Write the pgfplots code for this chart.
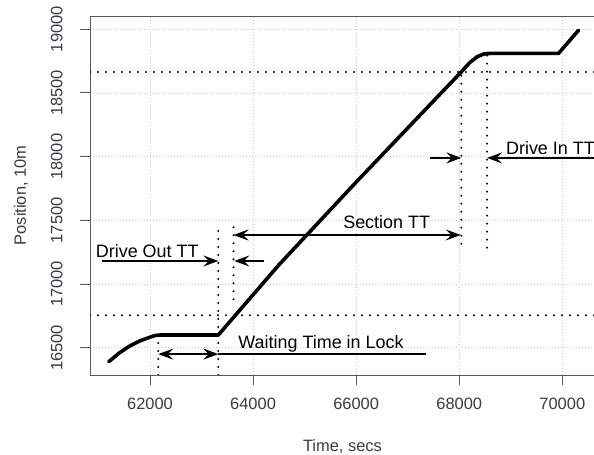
\documentclass[border=0pt]{standalone}
\usepackage{pgfplots}
\pgfplotsset{compat=1.18}
\usepackage{fontspec}
\setmainfont{Liberation Sans}
\usetikzlibrary{arrows.meta}
\definecolor{spine}{HTML}{5A5A5A}
\definecolor{ticktxt}{HTML}{3A3A44}
\tikzset{hd/.tip={Stealth[length=15bp, width=11bp, inset=5.5bp]}}
\begin{document}
\begin{tikzpicture}[
  refdot/.style={line width=2.2bp, dash pattern=on 0bp off 8bp, line cap=round, black},
  ann/.style={line width=1.3bp, black},
  anntext/.style={font=\fontsize{18}{20}\selectfont, inner sep=0pt}]
\begin{axis}[
  at={(90bp,80bp)}, anchor=south west,
  scale only axis, width=507bp, height=359bp,
  xmin=60836, xmax=70673, ymin=16286, ymax=19104,
  xtick={62000,64000,66000,68000,70000},
  ytick={16500,17000,17500,18000,18500,19000},
  scaled ticks=false,
  /pgf/number format/1000 sep={},
  /pgf/number format/assume math mode=true,
  tick align=outside, tick pos=left,
  major tick length=10bp,
  axis line style={spine, line width=0.9bp},
  major tick style={spine, line width=0.9bp},
  grid=major,
  major grid style={black!20, dash pattern=on 1bp off 2bp, line width=0.6bp},
  tick label style={font=\fontsize{16.5}{18}\selectfont, text=ticktxt},
  yticklabel style={rotate=90, anchor=south},
  xticklabel shift=9bp, yticklabel shift=14bp,
  xlabel={Time, secs}, ylabel={Position, 10m},
  label style={font=\fontsize{16.5}{18}\selectfont, text=ticktxt},
  xlabel style={at={(axis description cs:0.498,-0.2)}, anchor=center},
  ylabel style={at={(axis description cs:-0.136,0.5)}, anchor=center},
]
% reference lines
\addplot[refdot] coordinates {(60836,18665) (70673,18665)};
\addplot[refdot] coordinates {(60836,16755) (70673,16755)};
\addplot[refdot] coordinates {(62161,16286) (62161,16590)};
\addplot[refdot] coordinates {(63326,16286) (63326,17465)};
\addplot[refdot] coordinates {(63620,16880) (63620,17480)};
\addplot[refdot] coordinates {(68040,17317) (68040,18665)};
\addplot[refdot] coordinates {(68540,17286) (68540,18810)};
% position trace
\addplot[black, line width=3.6bp, line join=round, line cap=round] coordinates {
 (61200,16390) (61400,16458) (61600,16512) (61800,16553) (62000,16583)
 (62100,16596) (62200,16600) (63326,16600) (64500,17150) (66000,17800)
 (67650,18500) (68040,18665) (68200,18737) (68350,18785) (68480,18806)
 (68600,18810) (69926,18810) (70315,18992)};
% annotations
\draw[ann, -{hd}] (axis cs:61063,17181) -- (axis cs:63326,17181);
\draw[ann, -{hd}] (axis cs:64218,17181) -- (axis cs:63637,17181);
\node[anntext, anchor=base west] at (axis cs:60947,17212) {Drive Out TT};
\draw[ann, {hd}-{hd}] (axis cs:63620,17385) -- (axis cs:68030,17385);
\node[anntext, anchor=base] at (axis cs:66592,17435) {Section TT};
\draw[ann, -{hd}] (axis cs:67437,17990) -- (axis cs:68040,17990);
\draw[ann, -{hd}] (axis cs:70673,17990) -- (axis cs:68540,17990);
\node[anntext, anchor=base west] at (axis cs:68906,18013) {Drive In TT};
\draw[ann, {hd}-{hd}] (axis cs:62161,16450) -- (axis cs:63326,16450);
\draw[ann] (axis cs:63326,16450) -- (axis cs:67360,16450);
\node[anntext, anchor=base west] at (axis cs:63713,16495) {Waiting Time in Lock};
\end{axis}
\pgfresetboundingbox
\path[use as bounding box] (0bp,0bp) rectangle (594bp,455bp);
\end{tikzpicture}
\end{document}
